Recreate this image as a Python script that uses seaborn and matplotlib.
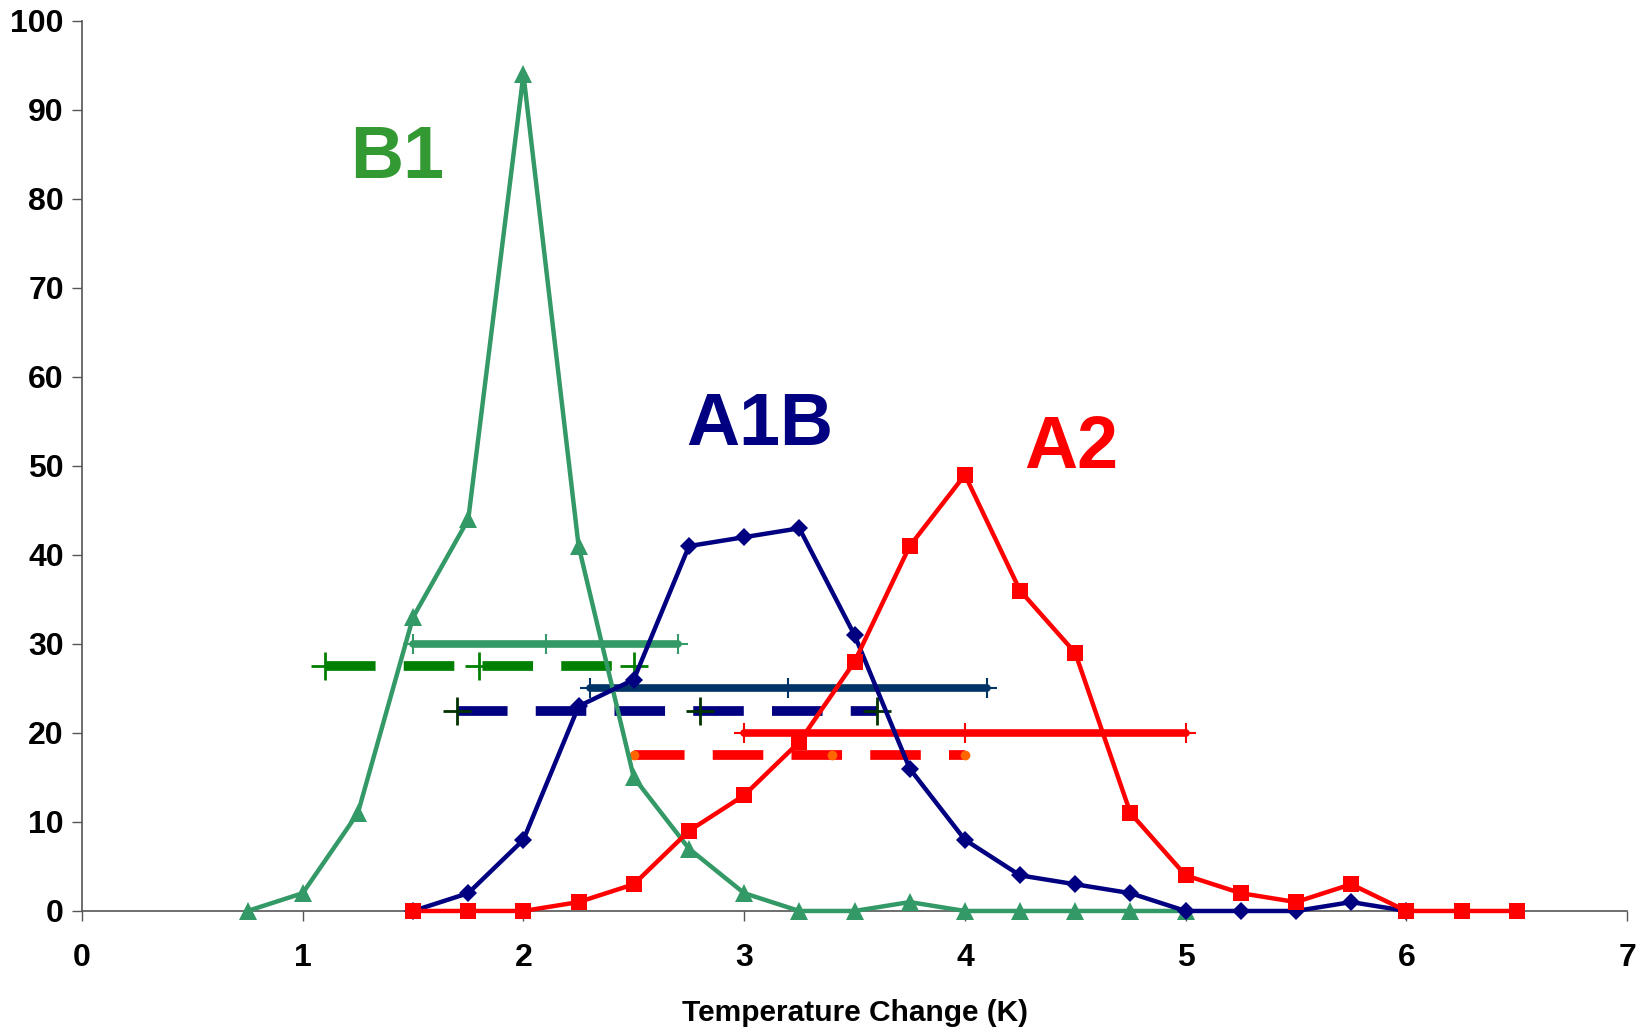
import matplotlib
matplotlib.use("Agg")
import matplotlib.pyplot as plt
import seaborn as sns
import pandas as pd
import numpy as np

# ---- data ----
b1_x = [0.75, 1.0, 1.25, 1.5, 1.75, 2.0, 2.25, 2.5, 2.75, 3.0, 3.25, 3.5, 3.75, 4.0, 4.25, 4.5, 4.75, 5.0]
b1_y = [0, 2, 11, 33, 44, 94, 41, 15, 7, 2, 0, 0, 1, 0, 0, 0, 0, 0]

a1b_x = [1.5, 1.75, 2.0, 2.25, 2.5, 2.75, 3.0, 3.25, 3.5, 3.75, 4.0, 4.25, 4.5, 4.75, 5.0, 5.25, 5.5, 5.75, 6.0]
a1b_y = [0, 2, 8, 23, 26, 41, 42, 43, 31, 16, 8, 4, 3, 2, 0, 0, 0, 1, 0]

a2_x = [1.5, 1.75, 2.0, 2.25, 2.5, 2.75, 3.0, 3.25, 3.5, 3.75, 4.0, 4.25, 4.5, 4.75, 5.0, 5.25, 5.5, 5.75, 6.0, 6.25, 6.5]
a2_y = [0, 0, 0, 1, 3, 9, 13, 19, 28, 41, 49, 36, 29, 11, 4, 2, 1, 3, 0, 0, 0]

# ranges: (low, central, high) and level
b1_solid_x = [1.5, 2.1, 2.7];  b1_solid_y = 30
b1_dash_x = [1.1, 1.8, 2.5];   b1_dash_y = 27.5
a1b_solid_x = [2.3, 3.2, 4.1]; a1b_solid_y = 25
a1b_dash_x = [1.7, 2.8, 3.6];  a1b_dash_y = 22.5
a2_solid_x = [3.0, 4.0, 5.0];  a2_solid_y = 20
a2_dash_x = [2.5, 3.4, 4.0];   a2_dash_y = 17.5

x_ticks = [0, 1, 2, 3, 4, 5, 6, 7]
y_ticks = [0, 10, 20, 30, 40, 50, 60, 70, 80, 90, 100]
x_label = "Temperature Change (K)"
labels = {"B1": (1.43, 84.5), "A1B": (3.07, 54.5), "A2": (4.48, 52.0)}

# ---- style ----
sns.set_theme(style="white")
plt.rcParams['font.family'] = ['Liberation Sans', 'DejaVu Sans']
plt.rcParams['text.color'] = 'black'
plt.rcParams['xtick.color'] = 'black'
plt.rcParams['ytick.color'] = 'black'
plt.rcParams['axes.labelcolor'] = 'black'

C_B1 = "#339966"
C_B1D = "#008000"
C_A1B = "#000080"
C_A1BS = "#003366"
C_A2 = "#FF0000"

fig = plt.figure(figsize=(16.46, 10.29), dpi=100)
ax = fig.add_axes([0.0498, 0.1147, 0.9387, 0.8649])

def rng(xs, y, color, ls, mcolor, marker, ms, lw, mew):
    df = pd.DataFrame({"x": xs, "y": [y] * len(xs)})
    sns.lineplot(data=df, x="x", y="y", ax=ax, color=color, lw=lw,
                 marker=marker, markersize=ms, markeredgecolor=mcolor,
                 markerfacecolor=mcolor, markeredgewidth=mew,
                 clip_on=False, zorder=4)
    line = ax.lines[-1]
    line.set_linestyle(ls)
    return line

# range bars
rng(b1_solid_x, b1_solid_y, C_B1, "-", C_B1, "+", 14, 5.5, 1.5)
rng(a1b_solid_x, a1b_solid_y, C_A1BS, "-", C_A1BS, "+", 14, 5.5, 1.5)
rng(a2_solid_x, a2_solid_y, C_A2, "-", C_A2, "+", 14, 5.5, 1.5)

dash = (0, (5.2, 2.9))
rng(b1_dash_x, b1_dash_y, C_B1D, dash, C_B1D, "+", 20, 7, 2)
rng(a1b_dash_x, a1b_dash_y, C_A1B, dash, "#003300", "+", 20, 7, 2)
rng(a2_dash_x, a2_dash_y, C_A2, dash, "#FF6600", "o", 6, 7, 1)

# main series
for xs, ys, col, mk, ms in [(b1_x, b1_y, C_B1, "^", 12.5),
                            (a1b_x, a1b_y, C_A1B, "D", 9),
                            (a2_x, a2_y, C_A2, "s", 11.5)]:
    df = pd.DataFrame({"x": xs, "y": ys})
    sns.lineplot(data=df, x="x", y="y", ax=ax, color=col, lw=3.2,
                 marker=mk, markersize=ms, markeredgecolor=col,
                 markerfacecolor=col, markeredgewidth=0,
                 clip_on=False, zorder=5)

# text labels
ax.text(*labels["B1"], "B1", color="#339933", fontsize=53, fontweight="bold",
        ha="center", va="center")
ax.text(*labels["A1B"], "A1B", color=C_A1B, fontsize=53, fontweight="bold",
        ha="center", va="center")
ax.text(*labels["A2"], "A2", color=C_A2, fontsize=53, fontweight="bold",
        ha="center", va="center")

ax.set_xlim(0, 7)
ax.set_ylim(0, 100)
ax.set_xticks(x_ticks)
ax.set_yticks(y_ticks)
ax.set_xticklabels([str(t) for t in x_ticks], fontsize=23, fontweight="bold")
ax.set_yticklabels([str(t) for t in y_ticks], fontsize=23, fontweight="bold")
ax.tick_params(axis="both", direction="out", length=7, width=1, color="#555555",
               left=True, bottom=True)
ax.tick_params(axis="y", pad=6)
ax.tick_params(axis="x", pad=16)
ax.set_xlabel(x_label, fontsize=21.5, fontweight="bold", labelpad=19)
ax.set_ylabel("")
for s in ["top", "right"]:
    ax.spines[s].set_visible(False)
for s in ["left", "bottom"]:
    ax.spines[s].set_color("#555555")
    ax.spines[s].set_linewidth(1.2)
ax.grid(False)
ax.set_facecolor("white")
fig.patch.set_facecolor("white")

fig.savefig("out.png", dpi=100)
